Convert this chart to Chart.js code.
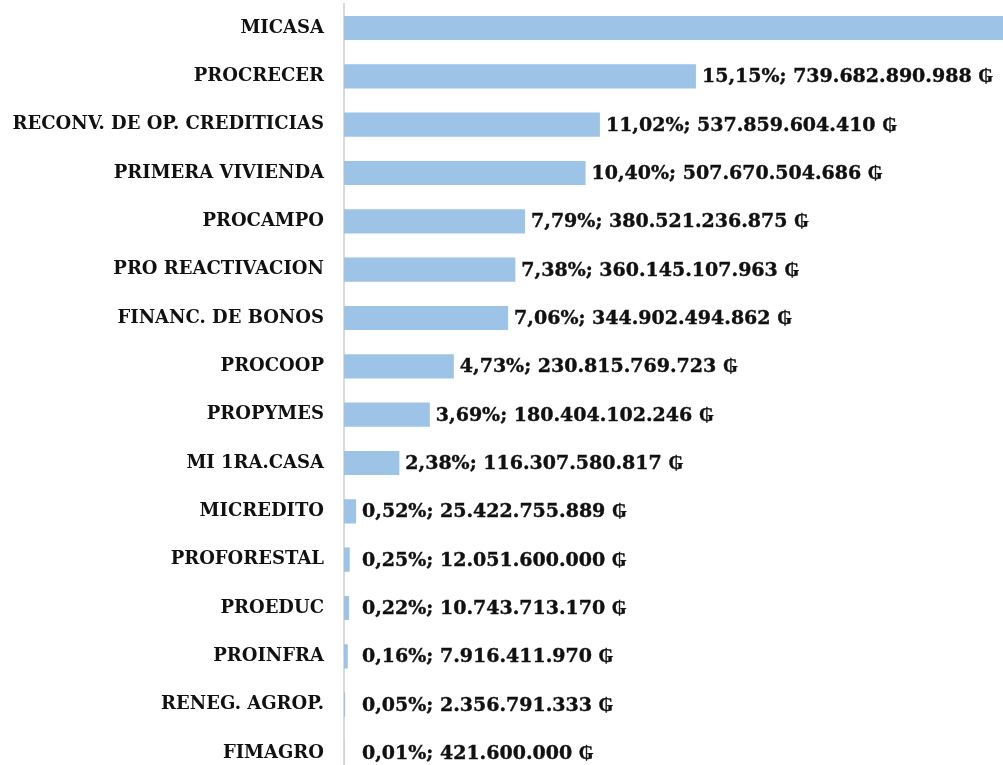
<!DOCTYPE html>
<html>
<head>
<meta charset="utf-8">
<script src="https://cdn.jsdelivr.net/npm/chart.js@4/dist/chart.umd.min.js"></script>
<style>
	html, body { margin: 0; padding: 0; background: #fff; overflow: hidden; }
	#wrap { position: absolute; left: 0; top: -27px; width: 1003px; height: 835px; }
</style>
</head>
<body>
<div id="wrap"><canvas id="mainChartBars"></canvas></div>
<script>
const categories = [
	'MICASA',
	'PROCRECER',
	'RECONV. DE OP. CREDITICIAS',
	'PRIMERA VIVIENDA',
	'PROCAMPO',
	'PRO REACTIVACION',
	'FINANC. DE BONOS',
	'PROCOOP',
	'PROPYMES',
	'MI 1RA.CASA',
	'MICREDITO',
	'PROFORESTAL',
	'PROEDUC',
	'PROINFRA',
	'RENEG. AGROP.',
	'FIMAGRO',
];
const amounts = [
	1_425_200_000_000, 739_682_890_988, 537_859_604_410, 507_670_504_686,
	380_521_236_875, 360_145_107_963, 344_902_494_862, 230_815_769_723,
	180_404_102_246, 116_307_580_817, 25_422_755_889, 12_051_600_000,
	10_743_713_170, 7_916_411_970, 2_356_791_333, 421_600_000,
];
const percents = [
	'29,19%', '15,15%', '11,02%', '10,40%', '7,79%', '7,38%', '7,06%', '4,73%',
	'3,69%', '2,38%', '0,52%', '0,25%', '0,22%', '0,16%', '0,05%', '0,01%',
];
const axisMax = 1_385_000_000_000;

const fontFamily = '"DejaVu Serif", "Liberation Serif", serif';

function fmtGs(n) {
	return String(n).replace(/\B(?=(\d{3})+(?!\d))/g, '.') + ' ₲';
}

// etiquetas al final de cada barra
const barLabels = {
	id: 'barLabels',
	afterDatasetsDraw(chart) {
		const ctx = chart.ctx;
		const meta = chart.getDatasetMeta(0);
		const minX = chart.chartArea.left + 18;
		ctx.save();
		ctx.font = 'bold 19px ' + fontFamily;
		ctx.fillStyle = '#111';
		ctx.strokeStyle = '#111';
		ctx.lineWidth = 0.4;
		ctx.textAlign = 'left';
		ctx.textBaseline = 'middle';
		meta.data.forEach((bar, i) => {
			const txt = percents[i] + '; ' + fmtGs(amounts[i]);
			const x = Math.max(bar.x + 6, minX);
			ctx.fillText(txt, x, bar.y + 1);
			ctx.strokeText(txt, x, bar.y + 1);
		});
		ctx.restore();
	},
};

new Chart(document.getElementById('mainChartBars'), {
	type: 'bar',
	data: {
		labels: categories,
		datasets: [
			{
				data: amounts,
				backgroundColor: '#9dc3e6',
				borderWidth: 0,
				barPercentage: 0.5,
				categoryPercentage: 1,
			},
		],
	},
	options: {
		indexAxis: 'y',
		responsive: true,
		maintainAspectRatio: false,
		animation: false,
		layout: { padding: 0 },
		plugins: {
			legend: { display: false },
			tooltip: { enabled: false },
		},
		scales: {
			x: {
				display: false,
				min: 0,
				max: axisMax,
			},
			y: {
				grid: { display: false, drawTicks: false },
				border: { display: true, color: '#d9d9d9', width: 2 },
				ticks: {
					color: '#111',
					padding: 20,
					font: { family: fontFamily, size: 18, weight: 'bold' },
				},
				afterFit(scale) {
					scale.width = 344;
				},
			},
		},
	},
	plugins: [barLabels],
});
</script>
</body>
</html>
